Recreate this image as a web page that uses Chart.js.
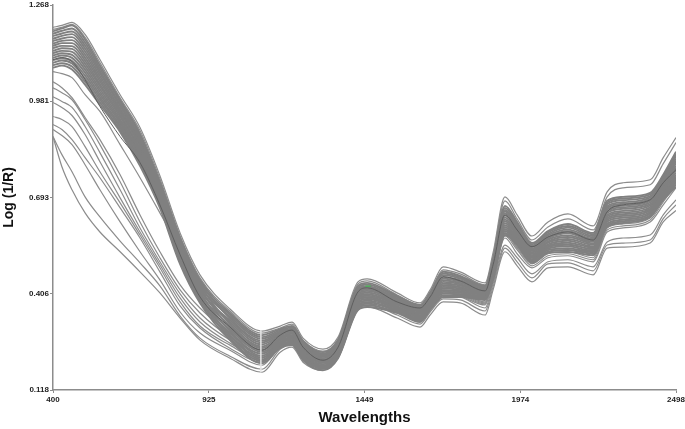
<!DOCTYPE html>
<html>
<head>
<meta charset="utf-8">
<title>Log (1/R) spectra</title>
<style>
html, body { margin: 0; padding: 0; background: #fff; overflow: hidden; }
canvas { display: block; filter: blur(0.4px); }
</style>
<script src="https://cdn.jsdelivr.net/npm/chart.js@4"></script>
</head>
<body>
<canvas id="spectra" width="685" height="429"></canvas>
<script>
var wavelengths = [400,430,464,508,558,626,693,760,828,895,996,1104,1165,1205,1242,1309,1360,1427,1458,1559,1636,1670,1714,1771,1855,1882,1922,1963,2013,2067,2134,2219,2266,2320,2411,2455,2498];
var xTicks = [400,925,1449,1974,2498];
var yTicks = [0.118,0.406,0.693,0.981,1.268];

// spectra that stand apart from the main band
var high1 = [1.201,1.207,1.216,1.180,1.105,1.000,.902,.758,.587,.462,.360,.294,.309,.321,.273,.240,.276,.441,.450,.408,.378,.417,.486,.471,.438,.528,.695,.641,.578,.620,.644,.608,.710,.737,.746,.812,.872];
var high2 = [1.195,1.201,1.210,1.171,1.096,.991,.893,.749,.578,.453,.354,.288,.303,.315,.267,.234,.270,.435,.444,.402,.372,.411,.477,.465,.432,.519,.683,.629,.566,.605,.629,.596,.695,.722,.731,.794,.857];
var lowA = [.875,.785,.716,.647,.590,.531,.471,.408,.333,.267,.213,.171,.231,.246,.201,.177,.213,.357,.366,.333,.306,.342,.381,.378,.342,.417,.531,.489,.441,.483,.486,.462,.542,.545,.557,.620,.654];
var lowB = [.875,.821,.770,.695,.635,.563,.498,.429,.339,.273,.219,.180,.240,.255,.210,.186,.222,.366,.375,.342,.315,.351,.390,.387,.354,.426,.542,.501,.453,.495,.498,.474,.551,.557,.566,.630,.671];
var lowC = [.896,.878,.851,.791,.716,.620,.531,.447,.351,.288,.237,.192,.249,.264,.219,.195,.231,.378,.384,.351,.327,.363,.399,.396,.363,.435,.551,.513,.465,.501,.507,.486,.560,.572,.581,.641,.686];
var midD = [.911,.896,.866,.812,.752,.662,.572,.471,.369,.303,.243,.201,.255,.270,.225,.201,.237,.387,.393,.357,.333,.369,.408,.399,.372,.447,.572,.525,.483,.513,.519,.501,.590,.602,.620,.671,.722];
var midE = [.935,.926,.905,.845,.770,.677,.581,.483,.381,.309,.252,.207,.258,.273,.228,.204,.240,.390,.396,.360,.336,.372,.411,.402,.375,.450,.578,.537,.489,.519,.525,.507,.596,.608,.626,.680,.731];
var midF = [.977,.962,.938,.881,.800,.692,.590,.492,.393,.321,.258,.213,.261,.276,.231,.207,.243,.393,.399,.363,.339,.375,.414,.405,.378,.453,.584,.542,.495,.525,.531,.513,.602,.614,.632,.686,.737];
var midG = [.994,.980,.962,.905,.827,.716,.602,.501,.405,.333,.267,.219,.267,.282,.237,.213,.249,.399,.405,.369,.342,.378,.417,.408,.381,.456,.587,.545,.501,.531,.537,.519,.608,.620,.638,.692,.743];
var midH = [1.021,1.006,.985,.926,.851,.740,.620,.513,.417,.348,.276,.228,.273,.288,.243,.219,.255,.405,.411,.375,.348,.384,.423,.414,.387,.462,.593,.551,.507,.537,.542,.525,.614,.626,.644,.698,.749];
var midI = [1.039,1.021,.991,.932,.866,.761,.641,.531,.432,.363,.288,.237,.279,.294,.249,.225,.261,.411,.417,.381,.354,.390,.429,.420,.393,.468,.599,.557,.513,.542,.548,.531,.620,.632,.650,.704,.755];
var midJ = [1.069,1.063,1.051,1.000,.950,.851,.752,.647,.537,.411,.297,.246,.285,.300,.255,.231,.267,.417,.423,.387,.360,.396,.435,.426,.399,.474,.605,.563,.519,.548,.554,.537,.626,.638,.656,.710,.761];

// main band
var band01 = [1.189,1.198,1.207,1.165,1.087,.985,.884,.740,.572,.447,.348,.282,.300,.309,.264,.231,.267,.429,.438,.399,.372,.408,.471,.459,.429,.507,.668,.620,.557,.593,.614,.587,.683,.695,.707,.761,.830];
var band02 = [1.182,1.191,1.198,1.156,1.079,.979,.878,.735,.567,.442,.332,.265,.289,.298,.253,.220,.256,.415,.424,.389,.362,.398,.456,.446,.421,.503,.662,.615,.553,.589,.608,.583,.678,.690,.702,.756,.823];
var band03 = [1.175,1.183,1.189,1.147,1.071,.972,.871,.730,.562,.438,.343,.276,.296,.305,.260,.227,.263,.424,.433,.396,.369,.405,.466,.455,.426,.491,.645,.602,.541,.575,.592,.569,.662,.674,.688,.741,.802];
var band04 = [1.167,1.176,1.181,1.138,1.064,.966,.865,.724,.556,.433,.316,.248,.277,.286,.241,.209,.245,.400,.409,.379,.352,.388,.441,.434,.412,.499,.656,.611,.549,.584,.603,.578,.673,.685,.697,.751,.816];
var band05 = [1.160,1.168,1.172,1.129,1.056,.959,.858,.719,.551,.429,.337,.271,.292,.301,.256,.224,.260,.419,.428,.392,.365,.401,.461,.451,.423,.483,.633,.592,.533,.567,.580,.561,.652,.664,.678,.731,.788];
var band06 = [1.153,1.161,1.163,1.120,1.048,.953,.852,.714,.546,.424,.305,.237,.270,.279,.234,.202,.238,.391,.400,.372,.345,.381,.431,.425,.407,.495,.651,.606,.545,.580,.597,.574,.667,.679,.693,.746,.809];
var band07 = [1.146,1.154,1.154,1.111,1.040,.947,.846,.709,.541,.419,.321,.254,.281,.290,.245,.213,.249,.405,.414,.382,.355,.391,.446,.438,.415,.475,.622,.583,.525,.558,.569,.552,.641,.653,.669,.721,.774];
var band08 = [1.139,1.146,1.145,1.102,1.032,.940,.839,.704,.536,.415,.326,.260,.285,.294,.249,.217,.253,.410,.419,.385,.358,.394,.451,.442,.418,.487,.639,.597,.537,.571,.586,.565,.657,.669,.683,.736,.795];
var band09 = [1.131,1.139,1.137,1.093,1.025,.934,.833,.698,.530,.410,.294,.226,.262,.271,.226,.195,.231,.381,.390,.365,.338,.374,.421,.417,.401,.479,.627,.588,.529,.562,.575,.556,.647,.659,.673,.726,.781];
var band10 = [1.124,1.131,1.128,1.084,1.017,.927,.826,.693,.525,.406,.310,.243,.273,.282,.237,.206,.242,.395,.404,.375,.348,.384,.436,.430,.409,.467,.610,.574,.517,.549,.558,.543,.631,.643,.659,.711,.760];
var band11 = [1.117,1.124,1.119,1.075,1.009,.921,.820,.688,.520,.401,.283,.215,.254,.263,.218,.188,.224,.371,.380,.358,.331,.367,.411,.409,.395,.471,.616,.579,.521,.553,.564,.547,.636,.648,.664,.716,.767];
var band12 = [1.110,1.117,1.110,1.066,1.001,.915,.814,.683,.515,.396,.299,.232,.266,.275,.230,.199,.235,.386,.395,.368,.341,.377,.426,.421,.404,.459,.598,.565,.509,.540,.547,.534,.621,.633,.649,.701,.746];
var band13 = [1.103,1.109,1.101,1.057,.993,.908,.807,.678,.510,.392,.272,.204,.247,.256,.211,.181,.217,.362,.371,.351,.324,.360,.401,.400,.390,.463,.604,.569,.513,.545,.552,.539,.626,.638,.654,.706,.753];
var band14 = [1.095,1.102,1.093,1.048,.986,.902,.801,.672,.504,.387,.289,.220,.258,.267,.222,.191,.227,.376,.385,.362,.335,.371,.416,.413,.398,.451,.587,.556,.501,.531,.536,.525,.610,.622,.640,.691,.732];
var band15 = [1.088,1.094,1.084,1.039,.978,.895,.794,.667,.499,.383,.278,.209,.251,.260,.215,.184,.220,.367,.376,.355,.328,.364,.406,.404,.393,.455,.593,.560,.505,.536,.541,.530,.615,.627,.645,.696,.739];
var band16 = [1.081,1.087,1.075,1.030,.970,.889,.788,.662,.494,.378,.267,.198,.243,.252,.207,.177,.213,.357,.366,.348,.321,.357,.396,.396,.387,.447,.581,.551,.497,.527,.530,.521,.605,.617,.635,.686,.725];

// darker spectrum running through the band
var darkLine = [1.105,1.111,1.099,1.045,.965,.875,.797,.671,.522,.396,.306,.237,.282,.297,.246,.207,.246,.411,.423,.381,.363,.396,.456,.444,.414,.492,.641,.596,.546,.575,.590,.566,.650,.671,.686,.737,.776];

// small artefacts visible in the scan
var seamX = [1100,1100], seamY = [.297,.171];
var greenX = [1452,1470], greenY = [.428,.428];

var paleLines = [high1,high2,lowA,lowB,lowC,midD,midE,midF,midG,midH,midI,midJ];
var bandLines = [band01,band02,band03,band04,band05,band06,band07,band08,band09,band10,band11,band12,band13,band14,band15,band16];

function pairs(xs, ys){
	var out = [];
	for(var i = 0; i < xs.length; i++) out.push({ x: xs[i], y: ys[i] });
	return out;
}

function spectrum(values, color, width){
	return {
		data: pairs(wavelengths, values),
		borderColor: color,
		borderWidth: width,
		cubicInterpolationMode: 'monotone',
		pointRadius: 0
	};
}

var datasets = [
	{ data: pairs(greenX, greenY), borderColor: '#4fae5a', borderWidth: 1.5, pointRadius: 0 },
	{ data: pairs(seamX, seamY), borderColor: '#e6e6e6', borderWidth: 0.8, pointRadius: 0 },
	spectrum(darkLine, '#5e5e5e', 1)
];
bandLines.forEach(function(v){ datasets.push(spectrum(v, '#808080', 1.9)); });
paleLines.forEach(function(v){ datasets.push(spectrum(v, '#8c8c8c', 1.2)); });

var tickFont = { family: '"Liberation Sans", Arial, sans-serif', size: 8, weight: 'bold' };
var axisColor = '#8c8c8c';

new Chart(document.getElementById('spectra').getContext('2d'), {
	type: 'line',
	data: { datasets: datasets },
	options: {
		responsive: false,
		animation: false,
		events: [],
		layout: { padding: { top: 5, right: 9, left: 0, bottom: 0 } },
		plugins: { legend: { display: false }, tooltip: { enabled: false } },
		scales: {
			x: {
				type: 'linear',
				min: 400,
				max: 2498,
				afterBuildTicks: function(axis){
					axis.ticks = xTicks.map(function(v){ return { value: v }; });
				},
				afterFit: function(axis){
					axis.height = 39;
					axis.paddingLeft = 0;
					axis.paddingRight = 0;
				},
				border: { display: true, color: axisColor, width: 1.5 },
				grid: { drawOnChartArea: false, drawTicks: true, tickLength: 3, color: axisColor },
				ticks: { autoSkip: false, maxRotation: 0, minRotation: 0, padding: 2, color: '#222222', font: tickFont,
					callback: function(v){ return String(v); } },
				title: { display: true, text: 'Wavelengths', color: '#111111', padding: { top: 4, bottom: 2 },
					font: { family: '"Liberation Sans", Arial, sans-serif', size: 15, weight: 'bold' } }
			},
			y: {
				min: 0.118,
				max: 1.268,
				afterBuildTicks: function(axis){
					axis.ticks = yTicks.map(function(v){ return { value: v }; });
				},
				afterFit: function(axis){
					axis.width = 53;
					axis.paddingTop = 0;
					axis.paddingBottom = 0;
				},
				border: { display: true, color: axisColor, width: 1.5 },
				grid: { drawOnChartArea: false, drawTicks: true, tickLength: 3, color: axisColor },
				ticks: { autoSkip: false, padding: 1, color: '#222222', font: tickFont,
					callback: function(v){ return v.toFixed(3); } },
				title: { display: true, text: 'Log (1/R)', color: '#111111', padding: { top: 1, bottom: 0 },
					font: { family: '"Liberation Sans", Arial, sans-serif', size: 14, weight: 'bold' } }
			}
		}
	}
});
</script>
</body>
</html>
